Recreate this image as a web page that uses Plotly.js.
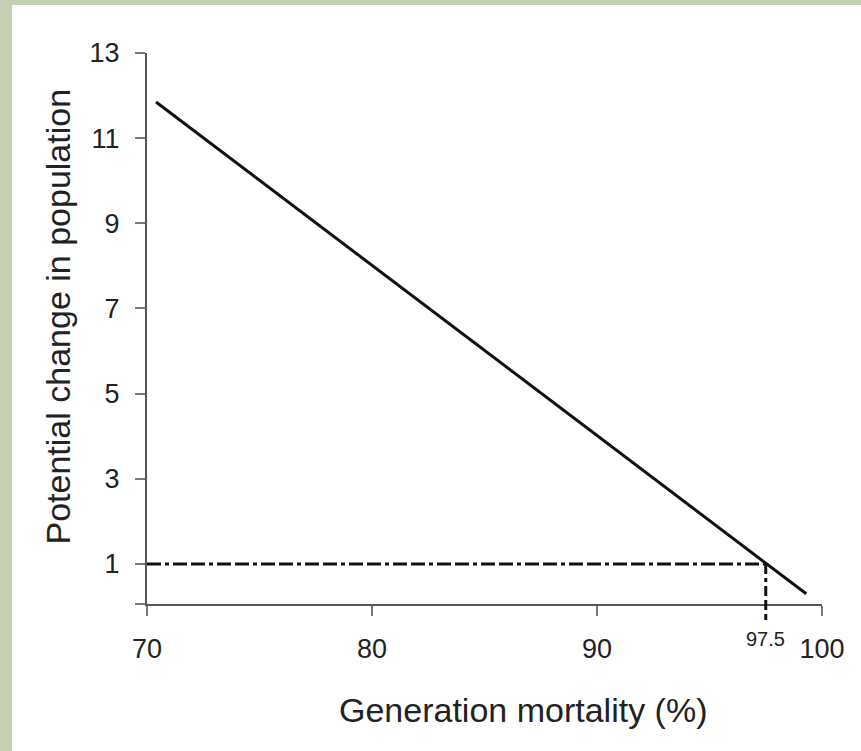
<!DOCTYPE html>
<html><head><meta charset="utf-8">
<script src="https://cdn.plot.ly/plotly-3.0.1.min.js"></script>
<style>
html,body{margin:0;padding:0;background:#c5cfb1;width:861px;height:751px;overflow:hidden;}
#chart{position:absolute;left:12px;top:5px;width:849px;height:746px;background:#fff;}
</style></head><body>
<div id="chart"></div>
<script>
// Data
var mortality = [70.4, 99.3];          // generation mortality (%)
var popChange = [11.85, 0.3];          // potential change in population
var thresholdX = 97.5;                 // mortality where change = 1
var thresholdY = 1;
var yTickVals = [1, 3, 5, 7, 9, 11, 13];
var xTickVals = [70, 80, 90, 100];
var yMin = 0.06, yMax = 13;
var xMin = 70, xMax = 100;
var xTitle = 'Generation mortality (%)';
var yTitle = 'Potential change in population';

var traces = [
  {x: mortality, y: popChange, mode: 'lines', line: {color: '#111', width: 3}, hoverinfo: 'skip'},
  {x: [xMin, thresholdX], y: [thresholdY, thresholdY], mode: 'lines',
   line: {color: '#111', width: 3, dash: '14px,4px,4px,4px,14px,4px'}, hoverinfo: 'skip'},
  {x: [thresholdX, thresholdX], y: [thresholdY, yMin], mode: 'lines',
   line: {color: '#111', width: 3, dash: '10px,4px,4px,4px'}, hoverinfo: 'skip'}
];

var layout = {
  width: 849, height: 746,
  margin: {l: 135, r: 39, t: 48, b: 147},
  paper_bgcolor: '#fff', plot_bgcolor: '#fff',
  showlegend: false,
  font: {family: 'Liberation Sans, Arial, sans-serif', color: '#222', size: 20},
  xaxis: {
    range: [xMin, xMax], tickvals: xTickVals, ticktext: xTickVals.map(String),
    showgrid: false, zeroline: false, showline: true, linecolor: '#555', linewidth: 2,
    ticks: 'outside', ticklen: 10, tickwidth: 2, tickcolor: '#777',
    tickfont: {size: 27, color: '#222'}, ticklabelstandoff: 10
  },
  yaxis: {
    range: [yMin, yMax], tickvals: [yMin].concat(yTickVals), ticktext: [''].concat(yTickVals.map(String)),
    showgrid: false, zeroline: false, showline: true, linecolor: '#555', linewidth: 2,
    ticks: 'outside', ticklen: 10, tickwidth: 2, tickcolor: '#777',
    tickfont: {size: 27, color: '#222'}, ticklabelstandoff: 10
  },
  shapes: [
    {type: 'line', xref: 'x', yref: 'paper', x0: thresholdX, x1: thresholdX, y0: 0, y1: -0.033,
     line: {color: '#111', width: 3, dash: '6px,4px'}}
  ],
  annotations: [
    {x: thresholdX, y: 0, xref: 'x', yref: 'paper', yanchor: 'top', yshift: -22,
     text: String(thresholdX), showarrow: false, font: {size: 20, color: '#222'}},
    {x: 0.557, y: 0, xref: 'paper', yref: 'paper', xanchor: 'center', yanchor: 'middle', yshift: -106,
     text: xTitle, showarrow: false, font: {size: 34, color: '#222'}},
    {x: 0, y: 0.5, xref: 'paper', yref: 'paper', xanchor: 'center', yanchor: 'middle',
     xshift: -90, yshift: 12, textangle: -90,
     text: yTitle, showarrow: false, font: {size: 34, color: '#222'}}
  ]
};

Plotly.newPlot('chart', traces, layout, {displayModeBar: false, staticPlot: true});
</script>
</body></html>
